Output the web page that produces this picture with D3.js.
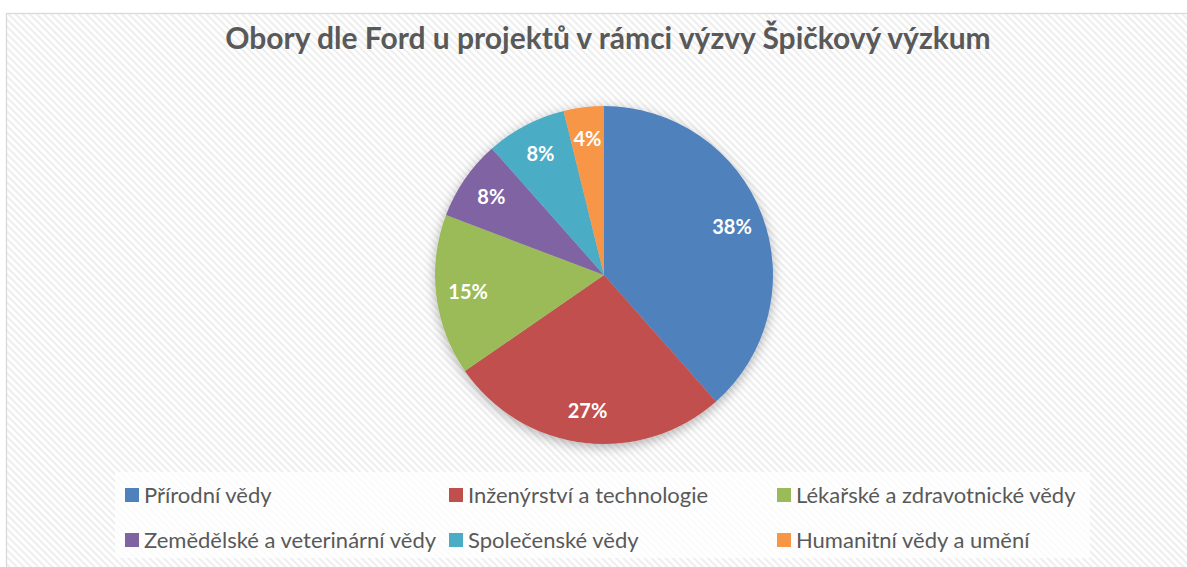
<!DOCTYPE html>
<html>
<head>
<meta charset="utf-8">
<script src="https://cdn.jsdelivr.net/npm/d3@7"></script>
<style>
  body { margin: 0; background: #fff; }
  svg { display: block; }
</style>
</head>
<body>
<svg width="1187" height="567"></svg>
<script>
// data
var categories = ['Přírodní vědy', 'Inženýrství a technologie', 'Lékařské a zdravotnické vědy',
  'Zemědělské a veterinární vědy', 'Společenské vědy', 'Humanitní vědy a umění'];
var counts = [10, 7, 4, 2, 2, 1];
var colors = ['#4f81bd', '#c0504d', '#9bbb59', '#8064a2', '#4bacc6', '#f79646'];
var title = 'Obory dle Ford u projektů v rámci výzvy Špičkový výzkum';

var svg = d3.select('svg');
var defs = svg.append('defs');

// diagonal hatch background
var pat = defs.append('pattern')
  .attr('id', 'hatch')
  .attr('patternUnits', 'userSpaceOnUse')
  .attr('width', 5).attr('height', 5)
  .attr('patternTransform', 'rotate(-45)');
pat.append('rect').attr('width', 5).attr('height', 5).attr('fill', '#ffffff');
pat.append('line').attr('x1', 1).attr('y1', 0).attr('x2', 1).attr('y2', 5)
  .attr('stroke', '#eeeeee').attr('stroke-width', 2.2);

// soft shadow round the pie
var f = defs.append('filter').attr('id', 'shadow')
  .attr('x', '-20%').attr('y', '-20%').attr('width', '140%').attr('height', '140%');
f.append('feDropShadow').attr('dx', 0).attr('dy', 3).attr('stdDeviation', 6)
  .attr('flood-color', '#000').attr('flood-opacity', 0.3);

svg.append('rect')
  .attr('x', 6.5).attr('y', 13.5)
  .attr('width', 1200).attr('height', 600)
  .attr('fill', 'url(#hatch)')
  .attr('stroke', '#d9d9d9').attr('stroke-width', 1.3);

// title
svg.append('text')
  .attr('x', 608).attr('y', 49)
  .attr('text-anchor', 'middle')
  .style('font-family', 'Lato, sans-serif')
  .style('font-weight', 'bold')
  .style('font-size', '30px')
  .style('fill', '#595959')
  .text(title);

// pie
var cx = 604, cy = 275, r = 169;
var total = d3.sum(counts);
var pie = d3.pie().sort(null).value(d => d);
var arcs = pie(counts);
var arc = d3.arc().innerRadius(0).outerRadius(r);
var labelArc = d3.arc().innerRadius(r * 0.81).outerRadius(r * 0.81);

var g = svg.append('g').attr('transform', `translate(${cx},${cy})`);

g.append('g').attr('filter', 'url(#shadow)')
  .selectAll('path')
  .data(arcs)
  .enter()
  .append('path')
  .attr('d', arc)
  .attr('fill', (d, i) => colors[i]);

g.selectAll('text.lbl')
  .data(arcs)
  .enter()
  .append('text')
  .attr('class', 'lbl')
  .attr('transform', d => `translate(${labelArc.centroid(d)})`)
  .attr('text-anchor', 'middle')
  .attr('dy', '0.36em')
  .style('font-family', 'Lato, sans-serif')
  .style('font-weight', 'bold')
  .style('font-size', '20px')
  .style('fill', '#fff')
  .text(d => Math.round(d.value / total * 100) + '%');

// legend
svg.append('rect')
  .attr('x', 115).attr('y', 472)
  .attr('width', 975).attr('height', 86)
  .attr('fill', '#fff').attr('fill-opacity', 0.75);

var colX = [125, 449, 777];
var rowY = [495, 540];
var legend = svg.selectAll('g.leg')
  .data(categories)
  .enter()
  .append('g')
  .attr('class', 'leg')
  .attr('transform', (d, i) => `translate(${colX[i % 3]},${rowY[Math.floor(i / 3)]})`);

legend.append('rect')
  .attr('x', 0).attr('y', -7)
  .attr('width', 14).attr('height', 14)
  .attr('fill', (d, i) => colors[i]);

legend.append('text')
  .attr('x', 19).attr('dy', '0.35em')
  .style('font-family', 'Lato, sans-serif')
  .style('font-size', '22px')
  .style('fill', '#595959')
  .text(d => d);
</script>
</body>
</html>
